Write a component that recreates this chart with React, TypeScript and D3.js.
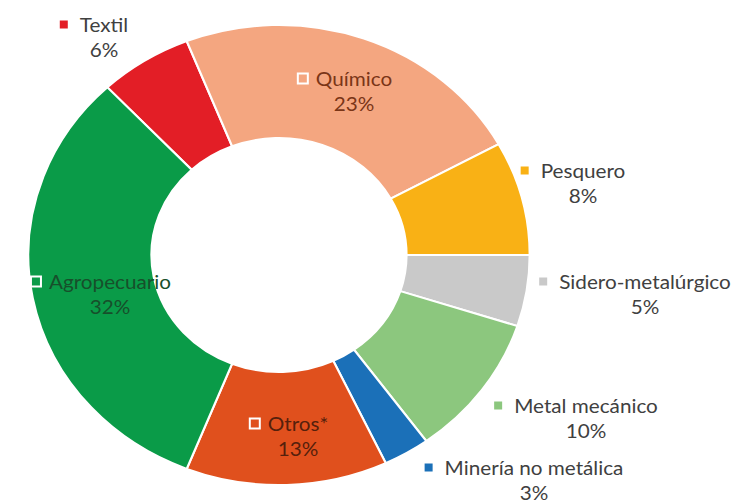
import React, { useEffect, useRef } from "react";
import * as d3 from "d3";

// ---- data ----
const categories = [
  "Textil",
  "Químico",
  "Pesquero",
  "Sidero-metalúrgico",
  "Metal mecánico",
  "Minería no metálica",
  "Otros*",
  "Agropecuario",
];
const shares = [6, 23, 8, 5, 10, 3, 13, 32];

// ---- styles / layout ----
const sliceColors = [
  "#E31E26",
  "#F4A680",
  "#F9B115",
  "#C9C9C9",
  "#8CC77E",
  "#1B70B8",
  "#E0501D",
  "#0A9B48",
];
const labelInside = [false, true, false, false, false, false, true, true];
const insideTextColors = ["", "#7A3517", "", "", "", "", "#55200C", "#174F2B"];
// text-center x, first-line baseline y
const labelPos: [number, number][] = [
  [104, 32],
  [354, 86],
  [583, 178],
  [645, 289],
  [586, 413],
  [534, 475],
  [298, 431],
  [110, 289],
];
const START_DEG = -43.2;

export default function App() {
  const ref = useRef<SVGSVGElement>(null);

  useEffect(() => {
    const svg = d3.select(ref.current);
    svg.selectAll("*").remove();
    const cx = 279,
      cy = 255,
      sx = 1.09;
    const outerR = 230,
      innerR = 117;
    const start = (START_DEG * Math.PI) / 180;

    const pie = d3
      .pie<number>()
      .sort(null)
      .value((d) => d)
      .startAngle(start)
      .endAngle(start + 2 * Math.PI);
    const arcs = pie(shares);
    const arc = d3
      .arc<d3.PieArcDatum<number>>()
      .innerRadius(innerR)
      .outerRadius(outerR);

    svg
      .append("rect")
      .attr("width", 736)
      .attr("height", 503)
      .attr("fill", "#fff");

    const g = svg
      .append("g")
      .attr("transform", `translate(${cx},${cy}) scale(${sx},1)`);
    g.selectAll("path")
      .data(arcs)
      .join("path")
      .attr("d", arc as any)
      .attr("fill", (_d, i) => sliceColors[i])
      .attr("stroke", "#fff")
      .attr("stroke-width", 2);

    const font = "Lato, 'Open Sans', sans-serif";
    const fs = 19;
    categories.forEach((name, i) => {
      const [tx, by] = labelPos[i];
      const inside = labelInside[i];
      const color = inside ? insideTextColors[i] : "#404040";
      const t = svg
        .append("text")
        .attr("transform", `translate(${tx},${by}) scale(${sx},1)`)
        .attr("text-anchor", "middle")
        .attr("font-family", font)
        .attr("font-size", fs)
        .attr("fill", color)
        .text(name);
      const w = (t.node() as SVGTextElement).getComputedTextLength() * sx;
      svg
        .append("text")
        .attr("transform", `translate(${tx},${by + 25}) scale(${sx},1)`)
        .attr("text-anchor", "middle")
        .attr("font-family", font)
        .attr("font-size", fs)
        .attr("fill", color)
        .text(`${shares[i]}%`);
      const s = inside ? 10 : 8;
      const gap = inside ? 8 : 12;
      const right = tx - w / 2 - gap;
      svg
        .append("rect")
        .attr("x", right - s)
        .attr("y", by - 7.5 - s / 2)
        .attr("width", s)
        .attr("height", s)
        .attr("fill", sliceColors[i])
        .attr("stroke", inside ? "#fff" : "none")
        .attr("stroke-width", inside ? 2 : 0);
    });
  }, []);

  return (
    <svg
      ref={ref}
      width={736}
      height={503}
      style={{ position: "absolute", left: 0, top: 0, background: "#fff" }}
    />
  );
}
